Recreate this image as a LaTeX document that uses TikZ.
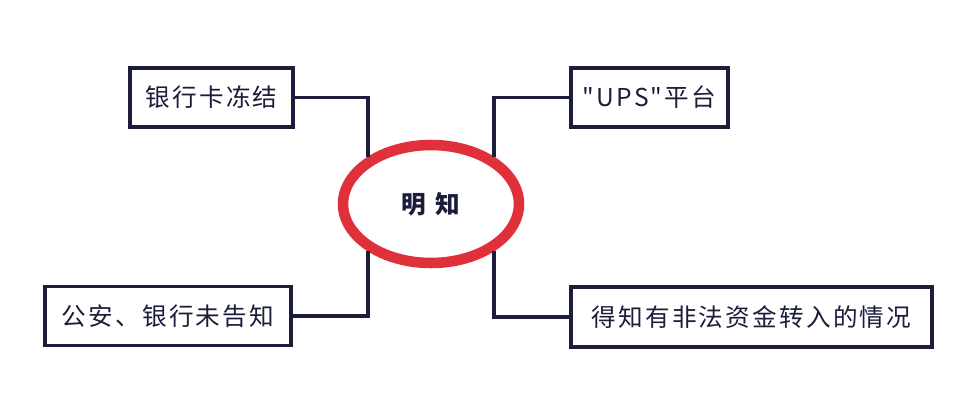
\documentclass[tikz,border=0pt]{standalone}
\usepackage{fontspec}
\usetikzlibrary{shapes.geometric}
\newfontfamily\cjk[LetterSpace=9]{Noto Sans CJK SC}
\definecolor{ink}{HTML}{1B1D3A}
\definecolor{mark}{HTML}{E0303A}
\begin{document}
\begin{tikzpicture}[x=0.02cm, y=-0.02cm, line width=2.2pt, draw=ink,
    box/.style={draw=ink, fill=white, minimum height=1.18cm, inner sep=0pt,
      font=\cjk\fontsize{14}{16}\selectfont, text=ink},
    circ/.style={ellipse, draw=mark, line width=6pt, fill=white,
      minimum width=3.52cm, minimum height=2.36cm, inner sep=0pt,
      font=\cjk\addfontfeature{LetterSpace=40}\bfseries\fontsize{14}{16}\selectfont, text=ink}]
    \useasboundingbox (0,0) rectangle (958,406);

    \node[box, minimum width=3.26cm] (card) at (211.5,97.5) {银行卡冻结};
    \node[box, minimum width=3.14cm] (ups) at (649.5,97.5) {"UPS"平台};
    \node[box, minimum width=4.92cm] (police) at (168,316) {公安、银行未告知};
    \node[box, minimum width=7.22cm, minimum height=1.2cm] (funds) at (751.5,317) {得知有非法资金转入的情况};

    \node[circ] (mz) at (431,204) {明知};

    \draw (card.east) -| (mz.143);
    \draw (police.east) -| (mz.-143);
    \draw (ups.west) -| (mz.37);
    \draw (funds.west) -| (mz.-37);
\end{tikzpicture}
\end{document}
